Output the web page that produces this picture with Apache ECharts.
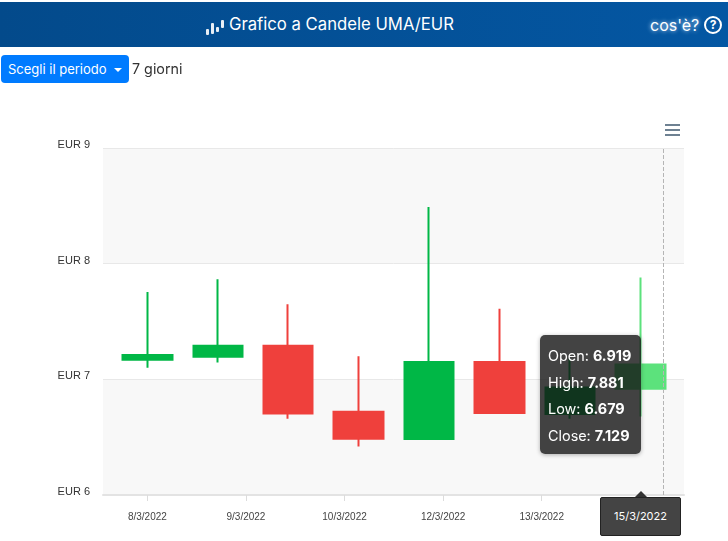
<!DOCTYPE html>
<html>
<head>
<meta charset="utf-8">
<style>
  html, body { margin: 0; padding: 0; width: 728px; height: 541px; overflow: hidden; background: #fff; font-family: Inter, "Open Sans", sans-serif; }
  #header { position: absolute; left: 0; top: 2px; width: 728px; height: 45px; background: linear-gradient(90deg, #034a8b, #0457a3); color: #fff; }
  #title { position: absolute; left: 229px; top: 12px; font-size: 16.7px; line-height: 20px; white-space: nowrap; }
  #logo { position: absolute; left: 206px; top: 15px; width: 20px; height: 20px; }
  #logo i { position: absolute; width: 3px; background: #e8eef5; border-radius: 1px; }
  #help { position: absolute; left: 650px; top: 13px; font-size: 16px; line-height: 20px; text-shadow: 0 0 4px #cfe4ff; white-space: nowrap; }
  #helpIcon { position: absolute; left: 704px; top: 14px; width: 14px; height: 14px; border: 2px solid #fff; border-radius: 50%; font-size: 12px; line-height: 14px; text-align: center; font-weight: 700; }
  #btn { position: absolute; left: 1px; top: 55px; width: 128px; height: 28px; background: #007bff; border-radius: 4px; color: #fff; font-size: 13px; line-height: 28px; text-indent: 7px; white-space: nowrap; }
  #btn span { display: inline-block; margin-left: 7px; vertical-align: 2px; width: 0; height: 0; border-left: 4px solid transparent; border-right: 4px solid transparent; border-top: 4px solid #fff; }
  #period { position: absolute; left: 132px; top: 60px; font-size: 14.3px; line-height: 18px; color: #333; }
  #chart { position: absolute; left: 0; top: 0; width: 728px; height: 541px; }
  #dateBox { position: absolute; left: 600px; top: 497px; width: 79px; height: 37px; background: #444; border: 1px solid #222; border-radius: 2px; color: #fff; font-size: 11px; line-height: 37px; text-align: center; }
  #dateTail { position: absolute; left: 635px; top: 491px; width: 0; height: 0; border-left: 6px solid transparent; border-right: 6px solid transparent; border-bottom: 6px solid #333; }
</style>
</head>
<body>
<div id="chart"></div>
<div id="header">
  <div id="logo"><i style="left:0;top:12px;height:6px"></i><i style="left:5px;top:6px;height:11px"></i><i style="left:10px;top:10px;height:5px"></i><i style="left:15px;top:3px;height:8px"></i></div>
  <div id="title">Grafico a Candele UMA/EUR</div>
  <div id="help">cos'è?</div>
  <div id="helpIcon">?</div>
</div>
<div id="btn">Scegli il periodo<span></span></div>
<div id="period">7 giorni</div>
<div id="dateTail"></div>
<div id="dateBox">15/3/2022</div>
<script src="https://cdn.jsdelivr.net/npm/echarts@6/dist/echarts.min.js"></script>
<script>
const days = [8, 9, 10, 11, 12, 13, 14, 15]
const opens = [7.17, 7.195, 7.29, 6.72, 6.485, 7.15, 6.70, 6.919]
const closes = [7.21, 7.29, 6.705, 6.487, 7.15, 6.71, 6.93, 7.129]
const lows = [7.10, 7.145, 6.66, 6.42, 6.475, 6.70, 6.66, 6.679]
const highs = [7.755, 7.865, 7.65, 7.20, 8.49, 7.61, 7.18, 7.881]
const tickDays = [8, 9.4, 10.8, 12.2, 13.6, 15]
const tickLabels = ['8/3/2022', '9/3/2022', '10/3/2022', '12/3/2022', '13/3/2022', '15/3/2022']
const hoverDay = 15.32

const up = '#00B746'
const down = '#EF403C'
const hovered = '#5ce27c'

const rows = days.map((d, i) => {
  const row = { value: [d, opens[i], closes[i], lows[i], highs[i]] }
  if (i === days.length - 1) {
    row.itemStyle = { color: hovered, borderColor: hovered }
  }
  return row
})

const myChart = echarts.init(document.getElementById('chart'))
myChart.setOption({
  animation: false,
  grid: { left: 103, right: 44, top: 148, bottom: 46 },
  tooltip: {
    trigger: 'item',
    alwaysShowContent: true,
    transitionDuration: 0,
    position: [540, 335],
    padding: [8, 8],
    borderWidth: 0,
    backgroundColor: 'rgba(20,20,20,0.8)',
    extraCssText: 'border-radius:5px;width:85px;height:103px;box-shadow:0 1px 4px rgba(0,0,0,.3);',
    textStyle: { color: '#fff', fontFamily: 'Inter', fontSize: 14.4 },
    formatter: function (p) {
      const v = [opens[p.dataIndex], highs[p.dataIndex], lows[p.dataIndex], closes[p.dataIndex]]
      const names = ['Open', 'High', 'Low', 'Close']
      return names.map((n, i) =>
        '<div style="line-height:26.6px;white-space:nowrap">' + n + ': <b>' + v[i].toFixed(3) + '</b></div>'
      ).join('')
    }
  },
  xAxis: {
    type: 'value',
    min: 7.37,
    max: 15.62,
    splitLine: { show: false },
    axisLine: { show: true, onZero: false, lineStyle: { color: '#e3e3e3', width: 2 } },
    axisTick: { show: true, length: 6, customValues: tickDays, lineStyle: { color: '#dcdcdc' } },
    axisLabel: {
      customValues: tickDays,
      color: '#444',
      fontFamily: 'Liberation Sans',
      fontSize: 10,
      margin: 17,
      formatter: function (v) {
        return tickLabels[tickDays.indexOf(v)] || ''
      }
    }
  },
  yAxis: {
    type: 'value',
    min: 6,
    max: 9,
    interval: 1,
    axisLine: { show: false },
    axisTick: { show: false },
    splitLine: { show: true, lineStyle: { color: '#e8e8e8' } },
    splitArea: { show: true, areaStyle: { color: ['#f8f8f8', '#ffffff'] } },
    axisLabel: {
      color: '#333',
      fontFamily: 'Liberation Sans',
      fontSize: 11,
      margin: 13,
      verticalAlign: 'bottom',
      lineHeight: 6,
      formatter: 'EUR {value}'
    }
  },
  graphic: [
    { type: 'rect', left: 665, top: 124, shape: { width: 15, height: 2 }, style: { fill: '#6e8192' } },
    { type: 'rect', left: 665, top: 129, shape: { width: 15, height: 2 }, style: { fill: '#6e8192' } },
    { type: 'rect', left: 665, top: 134, shape: { width: 15, height: 2 }, style: { fill: '#6e8192' } }
  ],
  series: [
    {
      type: 'candlestick',
      barWidth: 50,
      data: rows,
      encode: { x: 0, y: [1, 2, 3, 4] },
      itemStyle: { color: up, color0: down, borderColor: up, borderColor0: down, borderWidth: 2 },
      markLine: {
        silent: true,
        symbol: 'none',
        label: { show: false },
        lineStyle: { color: '#b5b5b5', type: 'dashed', width: 1 },
        data: [{ xAxis: hoverDay }]
      }
    }
  ]
})
myChart.dispatchAction({ type: 'showTip', seriesIndex: 0, dataIndex: 7 })
</script>
</body>
</html>
